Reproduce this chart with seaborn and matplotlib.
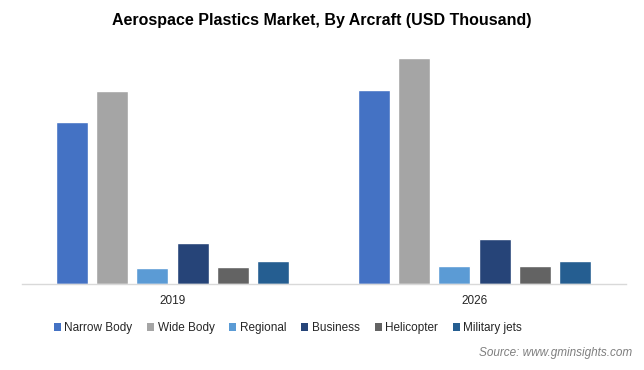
import matplotlib
matplotlib.use("Agg")
import matplotlib.pyplot as plt
import seaborn as sns
import pandas as pd
from matplotlib.patches import Patch

years = ["2019", "2026"]
segments = ["Narrow Body", "Wide Body", "Regional", "Business", "Helicopter", "Military jets"]
values_2019 = [162, 193, 16, 41, 17, 23]
values_2026 = [194, 226, 18, 45, 18, 23]
colors = ["#4472C4", "#A5A5A5", "#5B9BD5", "#264478", "#636363", "#255E91"]

rows = []
for y, vals in zip(years, [values_2019, values_2026]):
    for s, v in zip(segments, vals):
        rows.append({"Year": y, "Segment": s, "Value": v})
df = pd.DataFrame(rows)

sns.set_theme(style="white")
plt.rcParams["font.family"] = ["Liberation Sans", "DejaVu Sans"]

fig = plt.figure(figsize=(6.44, 3.70), dpi=100)
ax = fig.add_axes([21.5 / 644, 1 - 284 / 370, (625.5 - 21.5) / 644, (284 - 40) / 370])

sns.barplot(data=df, x="Year", y="Value", hue="Segment", hue_order=segments,
            palette=colors, width=0.8, gap=0.2, ax=ax, legend=False,
            saturation=1)

ax.set_xlim(-0.5, 1.5)
ax.set_ylim(0, 244)
ax.set_xlabel("")
ax.set_ylabel("")
ax.set_yticks([])
for side in ["top", "right", "left"]:
    ax.spines[side].set_visible(False)
ax.spines["bottom"].set_color("#D9D9D9")
ax.spines["bottom"].set_linewidth(1)
ax.tick_params(axis="x", length=0, pad=8, labelsize=8.5, colors="#262626")

fig.text(0.5, 1 - 20 / 370, "Aerospace Plastics Market, By Arcraft (USD Thousand)",
         ha="center", va="center", fontsize=11.5, fontweight="bold", color="#000000")

handles = [Patch(facecolor=c, edgecolor="none") for c in colors]
fig.legend(handles, segments, loc="center", bbox_to_anchor=(0.447, 1 - 328 / 370),
           ncol=6, frameon=False, fontsize=8.5, handlelength=0.6, handleheight=0.6,
           handletextpad=0.3, columnspacing=1.25, labelcolor="#262626")

fig.text(632 / 644, 1 - 353 / 370, "Source: www.gminsights.com", ha="right", va="center",
         fontsize=8.5, style="italic", color="#7F7F7F")

fig.savefig("out.png", dpi=100)
